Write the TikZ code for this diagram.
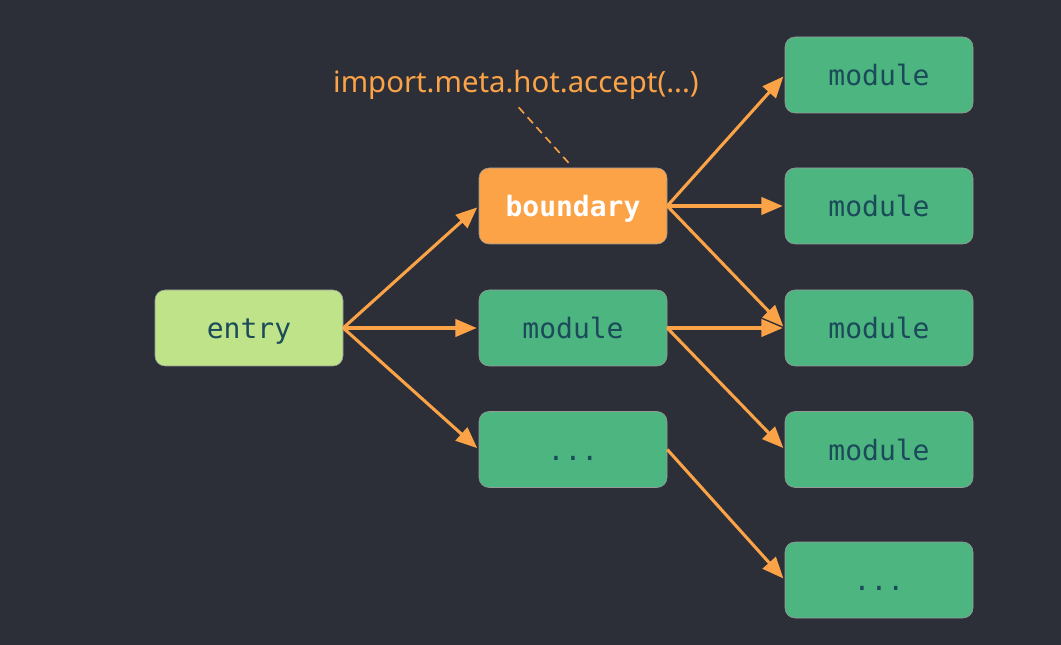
\documentclass[tikz,border=0pt]{standalone}
\usepackage{fontspec}
\setmonofont{DejaVu Sans Mono}
\newfontfamily\notefont{Noto Sans}
\usetikzlibrary{arrows.meta}
\definecolor{bgdark}{HTML}{2C2F38}
\definecolor{modgreen}{HTML}{4DB680}
\definecolor{entrygreen}{HTML}{BEE388}
\definecolor{hmrorange}{HTML}{FBA346}
\definecolor{modtext}{HTML}{1B4A5A}

\begin{document}
\begin{tikzpicture}[x=0.75pt,y=-0.75pt,
            box/.style={rounded corners=7.5pt, minimum width=141pt, minimum height=57pt,
                inner sep=0pt, text height=16.4pt, text depth=0pt,
                font=\ttfamily\fontsize{21}{24}\selectfont, text=modtext,
                draw=black!40, line width=0.4pt},
            mod/.style={box, fill=modgreen},
            link/.style={hmrorange, line width=2.3pt,
                -{Triangle[length=16pt,width=13pt]}, shorten >=1.5pt}]
            \fill[bgdark] (0,0) rectangle (1061,645);
            \useasboundingbox (0,0) rectangle (1061,645);

            \node[box, fill=entrygreen] (entry) at (249,328) {entry};
            \node[box, fill=hmrorange, text=white, font=\ttfamily\bfseries\fontsize{21}{24}\selectfont] (boundary) at (573,206) {boundary};
            \node[mod] (mid) at (573,328) {module};
            \node[mod] (middots) at (573,449.5) {...};

            \node[mod] (r1) at (879,75) {module};
            \node[mod] (r2) at (879,206) {module};
            \node[mod] (r3) at (879,328) {module};
            \node[mod] (r4) at (879,449.5) {module};
            \node[mod] (rdots) at (879,580) {...};

            \node[text=hmrorange, font=\notefont\fontsize{22}{26}\selectfont] (accept) at (516,85) {import.meta.hot.accept(...)};
            \draw[hmrorange, line width=1.2pt, dash pattern=on 6pt off 4pt, shorten <=3pt, shorten >=4pt]
                (accept.south) -- (boundary.north);

            \foreach \t in {boundary, mid, middots}
                \draw[link] (entry.east) -- (\t.west);
            \foreach \t in {r1, r2, r3}
                \draw[link] (boundary.east) -- (\t.west);
            \foreach \t in {r3, r4}
                \draw[link] (mid.east) -- (\t.west);
            \draw[link] (middots.east) -- (rdots.west);
        \end{tikzpicture}
\end{document}
